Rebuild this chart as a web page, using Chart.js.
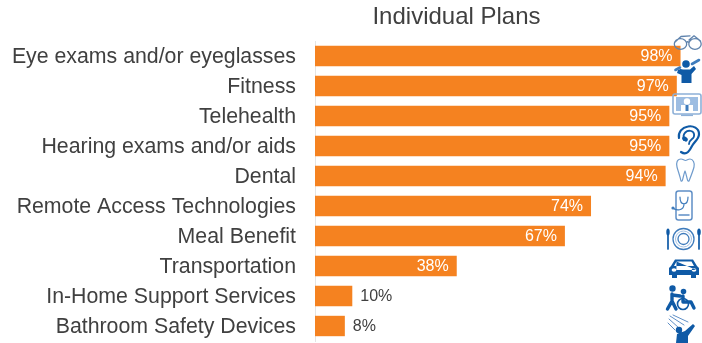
<!DOCTYPE html>
<html>
<head>
<meta charset="utf-8">
<style>
  html, body { margin: 0; padding: 0; background: #fff; }
  #wrap { width: 702px; height: 343px; }
</style>
<script src="https://cdn.jsdelivr.net/npm/chart.js@4/dist/chart.umd.min.js"></script>
</head>
<body>
<div id="wrap"><canvas id="myChart"></canvas></div>
<script>
const categories = [
  "Eye exams and/or eyeglasses",
  "Fitness",
  "Telehealth",
  "Hearing exams and/or aids",
  "Dental",
  "Remote Access Technologies",
  "Meal Benefit",
  "Transportation",
  "In-Home Support Services",
  "Bathroom Safety Devices"
];
const percents = [98, 97, 95, 95, 94, 74, 67, 38, 10, 8];
const chartTitle = "Individual Plans";

const darkBlue = "#0f5aa6";
const midBlue = "#3f7cbc";
const paleBlue = "#8db0d8";

function stroke(c, color, width, draw) {
  c.strokeStyle = color;
  c.lineWidth = width;
  c.lineCap = "round";
  c.lineJoin = "round";
  c.beginPath();
  draw();
  c.stroke();
}
function fill(c, color, draw) {
  c.fillStyle = color;
  c.beginPath();
  draw();
  c.fill();
}

// little benefit pictograms down the right hand side
const icons = [
  { x: 673, y: 35, draw(c) { // glasses
    stroke(c, "#5f83ad", 1.3, () => {
      c.ellipse(7.5, 9, 6.2, 5.4, 0, 0, 7);
      c.moveTo(22, 14.4);
      c.ellipse(22, 9, 6.2, 5.4, 0, Math.PI / 2, Math.PI * 2.5);
      c.moveTo(13.5, 7.5); c.quadraticCurveTo(14.8, 6, 16, 7.5);
      c.moveTo(1.5, 7.5); c.lineTo(8, 1.5); c.lineTo(17, 0.8);
      c.moveTo(16, 5); c.lineTo(21, 0.8); c.lineTo(27.5, 6);
    });
  } },
  { x: 675, y: 58, draw(c) { // person lifting dumbbells
    fill(c, darkBlue, () => {
      c.arc(11, 6, 3.8, 0, 7);
      c.moveTo(3, 12); c.lineTo(5.5, 11); c.lineTo(8, 11.5); c.lineTo(15, 11.5);
      c.lineTo(19, 8); c.lineTo(21, 11); c.lineTo(16.5, 16); c.lineTo(16.5, 25);
      c.lineTo(6.5, 25); c.lineTo(6.5, 17); c.lineTo(2, 15); c.closePath();
    });
    stroke(c, midBlue, 2.6, () => {
      c.moveTo(0.5, 12); c.lineTo(5, 9.5);
      c.moveTo(17, 6); c.lineTo(24, 2);
    });
  } },
  { x: 672, y: 93, draw(c) { // telehealth monitor
    stroke(c, paleBlue, 1.6, () => c.roundRect(1, 1, 28, 20, 2));
    fill(c, "#9dbde2", () => c.rect(4, 4, 22, 14));
    fill(c, "#ffffff", () => {
      c.arc(15, 8.5, 3.2, 0, 7);
      c.rect(9, 12, 12, 6);
    });
    fill(c, midBlue, () => c.rect(13.5, 12, 3, 6));
    fill(c, paleBlue, () => c.rect(9, 21.5, 12, 1.6));
  } },
  { x: 677, y: 125, draw(c) { // ear
    stroke(c, darkBlue, 2.2, () => {
      c.moveTo(4, 27);
      c.bezierCurveTo(10, 31, 13, 25, 15, 21);
      c.bezierCurveTo(18, 16, 22, 14, 22, 9);
      c.bezierCurveTo(22, 3, 16, 0.5, 11, 1.5);
      c.bezierCurveTo(5, 2.5, 1, 7, 2, 13);
    });
    stroke(c, darkBlue, 1.8, () => {
      c.moveTo(7, 15);
      c.bezierCurveTo(5, 8, 10, 5, 14, 6);
      c.bezierCurveTo(18, 7, 18, 12, 15, 14);
      c.bezierCurveTo(13, 15.5, 12, 17, 12, 19);
    });
    fill(c, darkBlue, () => c.ellipse(8, 14, 3, 2.2, 0.6, 0, 7));
  } },
  { x: 676, y: 158, draw(c) { // tooth
    stroke(c, "#6f9bcc", 1.2, () => {
      c.moveTo(5, 1);
      c.bezierCurveTo(1, 1, 0, 5, 1, 9);
      c.bezierCurveTo(2, 13, 4, 18, 5, 23);
      c.bezierCurveTo(7, 24, 7, 18, 9, 13);
      c.bezierCurveTo(11, 18, 11, 24, 13, 23);
      c.bezierCurveTo(15, 18, 17, 13, 18, 9);
      c.bezierCurveTo(19, 5, 17, 1, 14, 1);
      c.bezierCurveTo(12, 1, 11, 2.5, 9.5, 2.5);
      c.bezierCurveTo(8, 2.5, 7, 1, 5, 1);
    });
  } },
  { x: 671, y: 190, draw(c) { // phone with stethoscope
    stroke(c, "#5f8fc6", 1.5, () => {
      c.roundRect(5, 1, 16, 29, 2.5);
      c.moveTo(8, 25); c.lineTo(18, 25);
    });
    stroke(c, midBlue, 1.2, () => {
      c.moveTo(9, 7); c.bezierCurveTo(9, 16, 17, 16, 17, 7);
      c.moveTo(13, 14); c.bezierCurveTo(13, 21, 5, 21, 2, 18);
    });
    fill(c, midBlue, () => c.arc(2, 18, 1.6, 0, 7));
  } },
  { x: 666, y: 228, draw(c) { // fork, plate and knife
    stroke(c, midBlue, 1.3, () => {
      c.arc(17.5, 11, 10.5, 0, 7);
      c.moveTo(23, 11);
      c.arc(17.5, 11, 5.5, 0, 7);
    });
    stroke(c, "#a6c2e2", 1, () => c.arc(17.5, 11, 8, 0, 7));
    stroke(c, darkBlue, 1.7, () => {
      c.moveTo(2, 7); c.lineTo(2, 21);
      c.moveTo(33, 3); c.lineTo(33, 21);
    });
    fill(c, darkBlue, () => {
      c.ellipse(2, 4, 1.7, 3.6, 0, 0, 7);
      c.ellipse(33, 4, 1.8, 3.6, 0, 0, 7);
    });
  } },
  { x: 668, y: 258, draw(c) { // car
    fill(c, darkBlue, () => {
      c.moveTo(7, 1.5); c.lineTo(25, 1.5); c.lineTo(29, 8); c.lineTo(31, 10);
      c.lineTo(31, 17); c.lineTo(28, 17); c.lineTo(28, 20); c.lineTo(23, 20);
      c.lineTo(23, 17); c.lineTo(9, 17); c.lineTo(9, 20); c.lineTo(4, 20);
      c.lineTo(4, 17); c.lineTo(1, 17); c.lineTo(1, 10); c.lineTo(3, 8);
      c.closePath();
    });
    fill(c, "#ffffff", () => {
      c.moveTo(8.5, 3.5); c.lineTo(23.5, 3.5); c.lineTo(26, 8); c.lineTo(6, 8);
      c.closePath();
      c.ellipse(6, 12, 2.4, 1.8, 0, 0, 7);
      c.ellipse(26, 12, 2.4, 1.8, 0, 0, 7);
    });
  } },
  { x: 665, y: 285, draw(c) { // helper pushing a wheelchair
    fill(c, darkBlue, () => {
      c.arc(7.5, 3.5, 3.2, 0, 7);
      c.moveTo(21, 6.5);
      c.arc(18.5, 6.5, 2.8, 0, 7);
    });
    stroke(c, darkBlue, 3.4, () => {
      c.moveTo(7, 9); c.lineTo(7, 16); c.lineTo(2.5, 24);
      c.moveTo(7, 16); c.lineTo(11, 24);
      c.moveTo(7, 10); c.lineTo(15, 11);
      c.moveTo(18, 11); c.lineTo(18, 17); c.lineTo(26, 17); c.lineTo(29, 23);
    });
    stroke(c, darkBlue, 1.6, () => c.arc(18, 19, 5.5, 0, 7));
  } },
  { x: 668, y: 315, draw(c) { // person under a shower
    stroke(c, "#5f8fc6", 1, () => {
      c.moveTo(2, 1); c.lineTo(16, 10);
      c.moveTo(1, 4); c.lineTo(11, 13);
      c.moveTo(0, 8); c.lineTo(7, 15);
      c.moveTo(5, 0); c.lineTo(20, 7);
    });
    fill(c, darkBlue, () => {
      c.arc(11, 15, 3.2, 0, 7);
      c.moveTo(9, 19); c.lineTo(17, 16); c.lineTo(25, 9); c.lineTo(27, 11);
      c.lineTo(20, 21); c.lineTo(20, 28); c.lineTo(8, 28); c.closePath();
    });
  } }
];

const iconPlugin = {
  id: "iconPlugin",
  afterDraw(chart) {
    const c = chart.ctx;
    icons.forEach((icon) => {
      c.save();
      c.translate(icon.x, icon.y);
      icon.draw(c);
      c.restore();
    });
  }
};

// percent labels: white inside the long bars, dark beside the short ones
const valueLabels = {
  id: "valueLabels",
  afterDatasetsDraw(chart) {
    const c = chart.ctx;
    const bars = chart.getDatasetMeta(0).data;
    c.save();
    c.font = '16px "Liberation Sans"';
    c.textBaseline = "middle";
    bars.forEach((bar, i) => {
      const inside = percents[i] > 20;
      c.fillStyle = inside ? "#ffffff" : "#404040";
      c.textAlign = inside ? "right" : "left";
      c.fillText(percents[i] + "%", bar.x + (inside ? -8 : 8), bar.y + 1);
    });
    c.restore();
  }
};

const titlePlugin = {
  id: "titlePlugin",
  afterDraw(chart) {
    const c = chart.ctx;
    c.save();
    c.font = '24px "Liberation Sans"';
    c.fillStyle = "#404040";
    c.textAlign = "center";
    c.textBaseline = "middle";
    c.fillText(chartTitle, 456.5, 17);
    c.restore();
  }
};

new Chart(document.getElementById("myChart"), {
  type: "bar",
  data: {
    labels: categories,
    datasets: [{
      data: percents,
      backgroundColor: "#f58220",
      categoryPercentage: 1,
      barPercentage: 0.68
    }]
  },
  options: {
    indexAxis: "y",
    responsive: true,
    maintainAspectRatio: false,
    animation: false,
    layout: { padding: { top: 41, bottom: 2, right: 14 } },
    plugins: { legend: { display: false }, tooltip: { enabled: false } },
    scales: {
      x: {
        min: 0,
        max: 100,
        grid: { display: false, drawTicks: false },
        border: { display: false },
        ticks: { display: false }
      },
      y: {
        // fixed gutter for the labels, and no room reserved under the last one
        afterFit(scale) {
          scale.width = 315;
          scale.paddingBottom = 0;
        },
        grid: { display: false, drawTicks: false },
        border: { color: "#e4e4e4", width: 1 },
        ticks: {
          padding: 19,
          labelOffset: 1,
          color: "#404040",
          font: { family: '"Liberation Sans"', size: 21.3 }
        }
      }
    }
  },
  plugins: [valueLabels, iconPlugin, titlePlugin]
});
</script>
</body>
</html>
